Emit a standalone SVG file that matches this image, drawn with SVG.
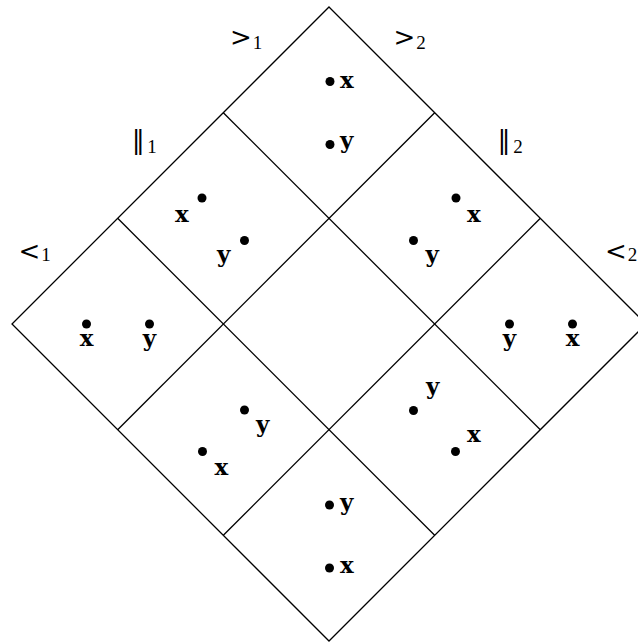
<svg xmlns="http://www.w3.org/2000/svg" width="638" height="643" viewBox="0 0 638 643">
<style>
.ln{fill:none;stroke:#000;stroke-width:1.3}
.dot{fill:#000}
.v{font-family:"DejaVu Serif","Liberation Serif",serif;font-weight:bold;font-size:23px;fill:#000}
.rel{font-family:"DejaVu Serif","Liberation Serif",serif;font-size:26px;fill:#000}
.sub{font-family:"Liberation Serif","DejaVu Serif",serif;font-size:19px;fill:#000}
</style>
<rect width="638" height="643" fill="#fff"/>
<g id="grid">
<polygon class="ln" points="329,7 646,324 329,641 12,324"/>
<line class="ln" x1="223.33" y1="112.67" x2="540.33" y2="429.67"/>
<line class="ln" x1="117.67" y1="218.33" x2="434.67" y2="535.33"/>
<line class="ln" x1="434.67" y1="112.67" x2="117.67" y2="429.67"/>
<line class="ln" x1="540.33" y1="218.33" x2="223.33" y2="535.33"/>
</g>
<g id="labels">
<text class="rel" x="241" y="46" text-anchor="middle">&gt;</text><text class="sub" x="257.5" y="49" text-anchor="middle">1</text>
<text class="rel" x="404.5" y="46" text-anchor="middle">&gt;</text><text class="sub" x="421" y="49" text-anchor="middle">2</text>
<text class="rel" x="138.3" y="149" text-anchor="middle">‖</text><text class="sub" x="152" y="153" text-anchor="middle">1</text>
<text class="rel" x="504" y="149" text-anchor="middle">‖</text><text class="sub" x="518" y="153" text-anchor="middle">2</text>
<text class="rel" x="29.5" y="260" text-anchor="middle">&lt;</text><text class="sub" x="46" y="261" text-anchor="middle">1</text>
<text class="rel" x="616" y="260" text-anchor="middle">&lt;</text><text class="sub" x="632.5" y="261" text-anchor="middle">2</text>
</g>
<g id="cell-top">
<circle class="dot" cx="330" cy="81.5" r="4.5"/><text class="v" x="340" y="88">x</text>
<circle class="dot" cx="330" cy="144.5" r="4.5"/><text class="v" x="340" y="148">y</text>
</g>
<g id="cell-upper-left">
<circle class="dot" cx="202" cy="198" r="4.5"/><text class="v" x="175" y="222">x</text>
<circle class="dot" cx="244.5" cy="240.5" r="4.5"/><text class="v" x="217" y="262">y</text>
</g>
<g id="cell-upper-right">
<circle class="dot" cx="456" cy="198" r="4.5"/><text class="v" x="467" y="222">x</text>
<circle class="dot" cx="413.5" cy="240.5" r="4.5"/><text class="v" x="425.5" y="262">y</text>
</g>
<g id="cell-left">
<circle class="dot" cx="86.5" cy="324" r="4.5"/><text class="v" x="86.5" y="346" text-anchor="middle">x</text>
<circle class="dot" cx="149.5" cy="324" r="4.5"/><text class="v" x="149.5" y="346" text-anchor="middle">y</text>
</g>
<g id="cell-right">
<circle class="dot" cx="509.5" cy="324" r="4.5"/><text class="v" x="509.5" y="346" text-anchor="middle">y</text>
<circle class="dot" cx="572.5" cy="324" r="4.5"/><text class="v" x="572.5" y="346" text-anchor="middle">x</text>
</g>
<g id="cell-lower-left">
<circle class="dot" cx="244.5" cy="410" r="4.5"/><text class="v" x="256" y="431.5">y</text>
<circle class="dot" cx="202.5" cy="451.5" r="4.5"/><text class="v" x="214.5" y="475">x</text>
</g>
<g id="cell-lower-right">
<circle class="dot" cx="413.5" cy="410.5" r="4.5"/><text class="v" x="426" y="393.5">y</text>
<circle class="dot" cx="455.5" cy="451.5" r="4.5"/><text class="v" x="467" y="441.5">x</text>
</g>
<g id="cell-bottom">
<circle class="dot" cx="329.5" cy="505" r="4.5"/><text class="v" x="340" y="510">y</text>
<circle class="dot" cx="329.5" cy="568" r="4.5"/><text class="v" x="340" y="573">x</text>
</g>
</svg>
